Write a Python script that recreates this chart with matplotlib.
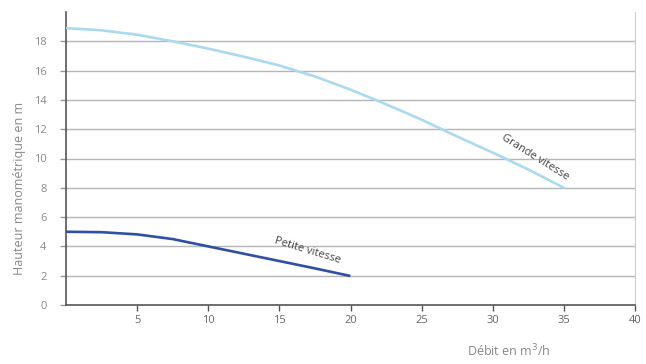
import matplotlib
matplotlib.use('Agg')
import matplotlib.pyplot as plt

plt.rcParams['font.family'] = ['Open Sans', 'DejaVu Sans']

# Courbes
grande_x = [0, 2.5, 5, 7.5, 10, 12.5, 15, 17.5, 20, 22.5, 25, 27.5, 30, 32.5, 35]
grande_y = [18.9, 18.75, 18.45, 18.0, 17.5, 16.95, 16.35, 15.6, 14.7, 13.7, 12.65, 11.5, 10.4, 9.25, 8.0]

petite_x = [0, 2.5, 5, 7.5, 10, 12.5, 15, 17.5, 19.9]
petite_y = [5.0, 4.97, 4.82, 4.5, 4.0, 3.5, 3.0, 2.5, 2.0]

xticks = [5, 10, 15, 20, 25, 30, 35, 40]
yticks = [0, 2, 4, 6, 8, 10, 12, 14, 16, 18]

fig = plt.figure(figsize=(6.46, 3.64), dpi=100)
ax = fig.add_axes([66 / 646, 1 - 305 / 364, (635 - 66) / 646, (305 - 12) / 364])

for y in yticks[1:]:
    ax.axhline(y, color='#b5b5b5', lw=1.0, zorder=1)

ax.plot(grande_x, grande_y, color='#aad9f2', lw=1.9, zorder=3)
ax.plot(petite_x, petite_y, color='#2f4ea6', lw=1.9, zorder=3)

ax.text(33.0, 10.1, 'Grande vitesse', rotation=-32, ha='center', va='center',
        fontsize=8, color='#444444', rotation_mode='anchor')
ax.text(17.0, 3.7, 'Petite vitesse', rotation=-17, ha='center', va='center',
        fontsize=8, color='#444444', rotation_mode='anchor')

ax.set_xlim(0, 40)
ax.set_ylim(0, 20)
ax.set_xticks(xticks)
ax.set_yticks(yticks)
ax.tick_params(axis='x', length=4, width=1, color='#555555', labelcolor='#666666',
               labelsize=8, pad=3)
ax.tick_params(axis='y', length=4, width=1, color='#999999', labelcolor='#888888',
               labelsize=8, pad=10)

ax.spines['top'].set_visible(False)
ax.spines['left'].set_color('#555555')
ax.spines['bottom'].set_color('#555555')
ax.spines['right'].set_color('#cccccc')
ax.spines['left'].set_linewidth(1.2)
ax.spines['bottom'].set_linewidth(1.2)

fig.text(20 / 646, 1 - 188 / 364, 'Hauteur manométrique en m', rotation=90,
         ha='center', va='center', fontsize=9, color='#888888')
fig.text(509 / 646, 1 - 351 / 364, 'Débit en m$^3$/h', ha='center', va='center',
         fontsize=9, color='#888888')

fig.savefig('out.png', dpi=100)
